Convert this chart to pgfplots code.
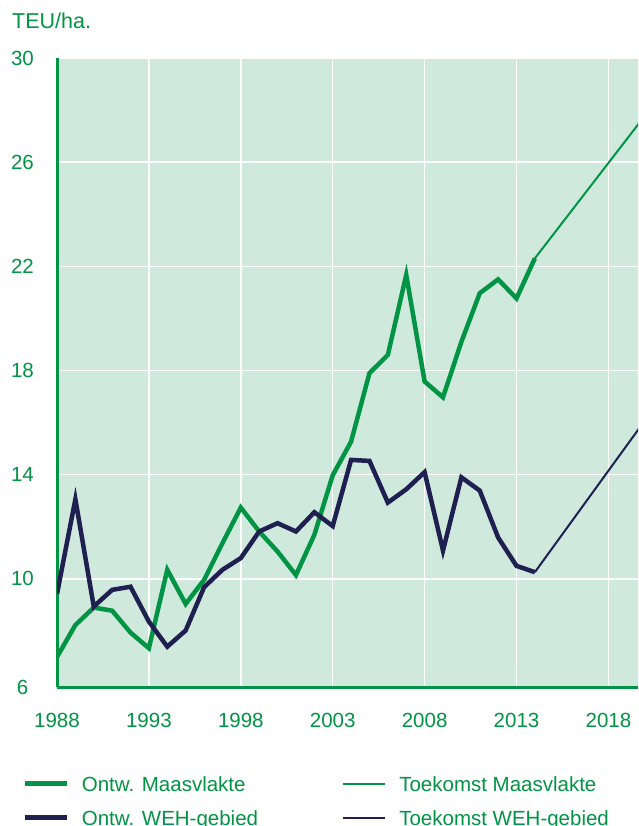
\documentclass[border=0pt]{standalone}
\usepackage{fontspec}
\setmainfont{Liberation Sans}
\usepackage{pgfplots}
\pgfplotsset{compat=1.18}
\definecolor{mygreen}{RGB}{0,148,68}
\definecolor{mynavy}{RGB}{31,32,80}
\definecolor{mybg}{RGB}{207,233,220}
\begin{document}
\begin{tikzpicture}
\path[use as bounding box] (0pt,0pt) rectangle (638pt,-826pt);
\clip (0pt,0pt) rectangle (638pt,-826pt);
\begin{axis}[
  at={(57pt,-687pt)}, anchor=south west,
  scale only axis, width=581pt, height=629pt,
  xmin=1988, xmax=2019.61, ymin=5.85, ymax=30,
  axis lines*=left,
  axis line style={mygreen, line width=3pt},
  xtick={1988,1993,...,2018}, ytick={5.85,10,14,18,22,26,30},
  yticklabels={6,10,14,18,22,26,30},
  major tick length=0pt, tick style={draw=none},
  grid=major, major grid style={white, line width=1.5pt},
  axis background/.style={fill=mybg},
  /pgf/number format/.cd, 1000 sep={}, assume math mode=true, /pgfplots/.cd,
  xticklabel style={anchor=center, yshift=-33.5pt, font=\fontsize{20.5}{20.5}\selectfont, text=mygreen},
  yticklabel style={anchor=center, xshift=-34.5pt, font=\fontsize{20.5}{20.5}\selectfont, text=mygreen},
  legend cell align=left,
  legend style={at={(axis description cs:-0.05955,-0.14149)}, anchor=north west,
    draw=none, fill=none, inner sep=0pt, outer sep=0pt, legend columns=2,
    column sep=0pt, row sep=19pt,
    font=\fontsize{20.5}{20.5}\selectfont, text=mygreen,
    nodes={inner sep=0pt, text height=15pt, text depth=0pt},
    /tikz/every odd column/.style={column sep=13pt}},
  legend image code/.code={\draw[#1] (0pt,0pt) -- (42pt,0pt);},
]
\addplot[mygreen, line width=4.5pt] coordinates {
(1988,7.0) (1989,8.23) (1990,8.9) (1991,8.78) (1992,7.94) (1993,7.34)
(1994,10.35) (1995,9.04) (1996,9.96) (1997,11.37) (1998,12.74) (1999,11.82)
(2000,11.05) (2001,10.15) (2002,11.69) (2003,13.98) (2004,15.27) (2005,17.9)
(2006,18.6) (2007,21.67) (2008,17.58) (2009,16.97) (2010,19.1) (2011,20.97)
(2012,21.5) (2013,20.77) (2014,22.31)};
\addlegendentry{\makebox[260.4pt][l]{Ontw. Maasvlakte}}
\addplot[mygreen, line width=2pt] coordinates {(2014,22.31) (2020,27.8)};
\addlegendentry{Toekomst Maasvlakte}
\addplot[mynavy, line width=4.5pt] coordinates {
(1988,9.42) (1989,13.06) (1990,8.94) (1991,9.58) (1992,9.7) (1993,8.36)
(1994,7.4) (1995,8.02) (1996,9.68) (1997,10.35) (1998,10.8) (1999,11.82)
(2000,12.14) (2001,11.82) (2002,12.56) (2003,12.03) (2004,14.57) (2005,14.53)
(2006,12.93) (2007,13.44) (2008,14.1) (2009,11.09) (2010,13.9) (2011,13.39)
(2012,11.59) (2013,10.5) (2014,10.26)};
\addlegendentry{\makebox[260.4pt][l]{Ontw. WEH-gebied}}
\addplot[mynavy, line width=2pt] coordinates {(2014,10.26) (2020,16.1)};
\addlegendentry{Toekomst WEH-gebied}
\end{axis}
\node[anchor=base west, font=\fontsize{21.5}{21.5}\selectfont, text=mygreen, inner sep=0pt] at (12pt,-29pt) {TEU/ha.};
\end{tikzpicture}
\end{document}
